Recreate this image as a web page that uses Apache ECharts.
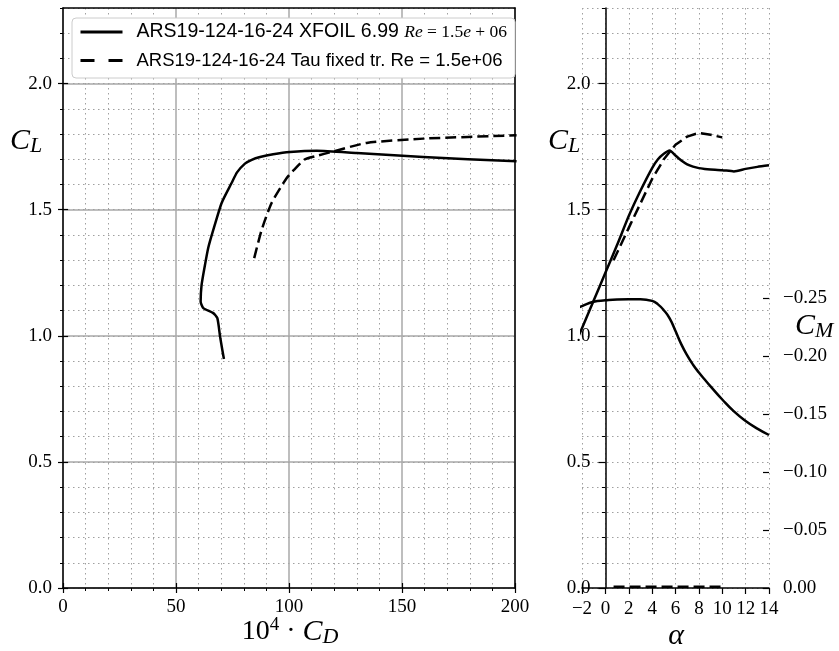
<!DOCTYPE html>
<html><head><meta charset="utf-8">
<script src="https://cdn.jsdelivr.net/npm/echarts@6/dist/echarts.min.js"></script>
<style>html,body{margin:0;padding:0;background:#fff}#c{width:839px;height:651px}</style>
</head><body><div id="c"></div>
<script>
// ---- data ----
const xfoilPolarCD = [71.2, 70.5, 69.5, 68.3, 66.5, 62.1, 60.9, 61.3, 62.6, 64.3, 66.5, 70.2, 74.6, 77.0, 80.5, 83.5, 87.2, 93.0, 100.4, 112.3, 130.0, 159.4, 200.7];
const xfoilPolarCL = [0.908, 0.944, 0.997, 1.070, 1.090, 1.110, 1.136, 1.200, 1.270, 1.350, 1.420, 1.527, 1.606, 1.648, 1.683, 1.698, 1.709, 1.720, 1.729, 1.734, 1.725, 1.709, 1.692];
const tauPolarCD = [84.6, 87.9, 92.3, 99.0, 102.3, 107.1, 111.5, 119.6, 134.4, 159.4, 200.7];
const tauPolarCL = [1.308, 1.420, 1.527, 1.626, 1.659, 1.700, 1.712, 1.731, 1.765, 1.782, 1.795];

const xfoilAlpha = [-3, -2, -1, 0, 1, 2, 3, 4, 4.5, 5, 5.5, 6, 6.5, 7, 7.5, 8, 8.5, 9, 10, 11, 12, 13, 14];
const xfoilCL = [0.93, 1.03, 1.14, 1.25, 1.36, 1.475, 1.575, 1.665, 1.70, 1.722, 1.735, 1.715, 1.695, 1.68, 1.671, 1.665, 1.662, 1.66, 1.657, 1.652, 1.662, 1.67, 1.676];
const xfoilCM = [-0.239, -0.243, -0.2468, -0.248, -0.2488, -0.249, -0.249, -0.2475, -0.2445, -0.2395, -0.2325, -0.2215, -0.210, -0.2005, -0.1925, -0.1858, -0.1797, -0.1738, -0.1625, -0.1522, -0.144, -0.1374, -0.1319];

const tauAlpha = [0.7, 2, 3, 4, 5, 6, 7, 8, 9, 10];
const tauCL = [1.30, 1.428, 1.525, 1.622, 1.70, 1.758, 1.79, 1.805, 1.797, 1.787];
const tauCM = [-0.001, -0.001, -0.001, -0.001, -0.001, -0.001, -0.001, -0.001, -0.001, -0.001];

const cdTicks = [0, 50, 100, 150, 200];
const clTicks = [0, 0.5, 1.0, 1.5, 2.0];
const alphaTicks = [-2, 0, 2, 4, 6, 8, 10, 12, 14];
const cmTicks = [0, -0.05, -0.10, -0.15, -0.20, -0.25];

const NAME_X = 'ARS19-124-16-24 XFOIL 6.99 Re = 1.5e + 06';
const NAME_T = 'ARS19-124-16-24 Tau fixed tr. Re = 1.5e+06';

// ---- styles ----
const SERIF = 'Liberation Serif';
const SANS = 'Liberation Sans';
const BLACK = '#000';
const MAJ = '#a8a8a8';
const DOT = {color: '#a0a0a0', width: 1, type: [1.5, 3.5]};
const ALPHA0_OFFSET = -23.4; // CL spine of right panel sits at alpha = 0
const minus = s => String(s).replace('-', '\u2212');
const zip = (a, b) => a.map((v, i) => [v, b[i]]);

const hidden = {axisLine: {show: false, onZero: false}, axisTick: {show: false}, axisLabel: {show: false}, splitLine: {show: false}};
const lbl = (extra) => Object.assign({fontFamily: SERIF, fontSize: 19, color: BLACK}, extra);

const chart = echarts.init(document.getElementById('c'), null, {renderer: 'canvas'});

const xAxis = [
  // 0: left grid lines
  Object.assign({}, hidden, {gridIndex: 0, type: 'value', min: 0, max: 200, interval: 50, z: 0,
    axisTick: {show: true, inside: true, length: 5, lineStyle: {color: BLACK, width: 1.2}},
    splitLine: {show: true, lineStyle: {color: MAJ, width: 1.5}},
    minorTick: {show: false, splitNumber: 5},
    minorSplitLine: {show: true, lineStyle: DOT}}),
  // 1: left bottom frame
  {gridIndex: 0, type: 'value', min: 0, max: 200, interval: 50, position: 'bottom', z: 3,
    axisLine: {show: true, onZero: false, lineStyle: {color: BLACK, width: 1.5}},
    axisTick: {show: true, length: 5, lineStyle: {color: BLACK, width: 1.2}},
    minorTick: {show: true, splitNumber: 5, length: 3, lineStyle: {color: BLACK, width: 1}},
    axisLabel: lbl({margin: 10, customValues: cdTicks}),
    splitLine: {show: false}},
  // 2: left top frame
  Object.assign({}, hidden, {gridIndex: 0, type: 'value', min: 0, max: 200, position: 'top', z: 3,
    axisLine: {show: true, onZero: false, lineStyle: {color: BLACK, width: 1.5}}}),
  // 3: right grid lines
  Object.assign({}, hidden, {gridIndex: 1, type: 'value', min: -2, max: 14, interval: 2, z: 0,
    splitLine: {show: true, lineStyle: DOT}}),
  // 4: right bottom frame (alpha)
  {gridIndex: 1, type: 'value', min: -2, max: 14, interval: 2, position: 'bottom', z: 3,
    axisLine: {show: true, onZero: false, lineStyle: {color: BLACK, width: 1.5}},
    axisTick: {show: true, length: 6, lineStyle: {color: BLACK, width: 1.2}},
    axisLabel: lbl({margin: 12, customValues: alphaTicks, formatter: v => minus(v)}),
    splitLine: {show: false}}
];

const yAxis = [
  // 0: left major grid
  Object.assign({}, hidden, {gridIndex: 0, type: 'value', min: 0, max: 2.3, interval: 0.5, z: 0,
    axisTick: {show: true, inside: true, length: 5, customValues: clTicks, lineStyle: {color: BLACK, width: 1.2}},
    splitLine: {show: true, lineStyle: {color: MAJ, width: 1.5}}}),
  // 1: left minor grid
  Object.assign({}, hidden, {gridIndex: 0, type: 'value', min: 0, max: 2.3, interval: 0.1, z: 0,
    splitLine: {show: true, lineStyle: DOT}}),
  // 2: left frame
  {gridIndex: 0, type: 'value', min: 0, max: 2.3, interval: 0.5, position: 'left', z: 3,
    axisLine: {show: true, onZero: false, lineStyle: {color: BLACK, width: 1.5}},
    axisTick: {show: true, length: 5, customValues: clTicks, lineStyle: {color: BLACK, width: 1.2}},
    axisLabel: lbl({margin: 11, customValues: clTicks, formatter: v => v.toFixed(1)}),
    splitLine: {show: false}},
  // 3: left minor ticks
  Object.assign({}, hidden, {gridIndex: 0, type: 'value', min: 0, max: 2.3, interval: 0.1, position: 'left', z: 3,
    axisTick: {show: true, length: 3, lineStyle: {color: BLACK, width: 1}}}),
  // 4: left right-side frame
  Object.assign({}, hidden, {gridIndex: 0, type: 'value', min: 0, max: 2.3, position: 'right', z: 3,
    axisLine: {show: true, onZero: false, lineStyle: {color: BLACK, width: 1.5}}}),
  // 5: right panel grid
  Object.assign({}, hidden, {gridIndex: 1, type: 'value', min: 0, max: 2.3, interval: 0.1, z: 0,
    splitLine: {show: true, lineStyle: DOT}}),
  // 6: right panel CL axis at alpha = 0
  {gridIndex: 1, type: 'value', min: 0, max: 2.3, interval: 0.5, position: 'left', offset: ALPHA0_OFFSET, z: 3,
    axisLine: {show: true, onZero: false, lineStyle: {color: BLACK, width: 1.5}},
    axisTick: {show: true, length: 7, customValues: clTicks, lineStyle: {color: BLACK, width: 1.2}},
    axisLabel: lbl({margin: 15, customValues: clTicks, formatter: v => v.toFixed(1)}),
    splitLine: {show: false}},
  // 7: right panel CL minor ticks
  Object.assign({}, hidden, {gridIndex: 1, type: 'value', min: 0, max: 2.3, interval: 0.1, position: 'left', offset: ALPHA0_OFFSET, z: 3,
    axisTick: {show: true, length: 3.5, lineStyle: {color: BLACK, width: 1}}}),
  // 8: CM axis (right, inverted)
  {gridIndex: 1, type: 'value', min: -0.5, max: 0, interval: 0.05, inverse: true, position: 'right', z: 3,
    axisLine: {show: false, onZero: false},
    axisTick: {show: true, inside: true, length: 6, customValues: cmTicks, lineStyle: {color: BLACK, width: 1.2}},
    axisLabel: lbl({margin: 14, customValues: cmTicks, formatter: v => minus(v.toFixed(2))}),
    splitLine: {show: false}}
];

const lineX = {color: BLACK, width: 2.5, join: 'round', cap: 'butt'};
const lineT = {color: BLACK, width: 2.5, type: [11, 5], join: 'round', cap: 'butt'};
const base = {type: 'line', symbol: 'none', showSymbol: false, itemStyle: {color: BLACK}, z: 2, clip: true};

const series = [
  Object.assign({}, base, {name: NAME_X, xAxisIndex: 0, yAxisIndex: 0, data: zip(xfoilPolarCD, xfoilPolarCL), lineStyle: lineX, smooth: 0.2}),
  Object.assign({}, base, {name: NAME_T, xAxisIndex: 0, yAxisIndex: 0, data: zip(tauPolarCD, tauPolarCL), lineStyle: lineT, smooth: 0.2}),
  Object.assign({}, base, {name: NAME_X, xAxisIndex: 3, yAxisIndex: 6, data: zip(xfoilAlpha, xfoilCL), lineStyle: lineX, smooth: 0.2}),
  Object.assign({}, base, {name: NAME_T, xAxisIndex: 3, yAxisIndex: 6, data: zip(tauAlpha, tauCL), lineStyle: lineT}),
  Object.assign({}, base, {name: NAME_X, xAxisIndex: 3, yAxisIndex: 8, data: zip(xfoilAlpha, xfoilCM), lineStyle: lineX, smooth: 0.5}),
  Object.assign({}, base, {name: NAME_T, xAxisIndex: 3, yAxisIndex: 8, data: zip(tauAlpha, tauCM), lineStyle: lineT})
];

const richMath = {
  c: {fontFamily: SERIF, fontStyle: 'italic', fontSize: 30, lineHeight: 32, fill: BLACK},
  s: {fontFamily: SERIF, fontStyle: 'italic', fontSize: 22, lineHeight: 19, verticalAlign: 'bottom', fill: BLACK},
  n: {fontFamily: SERIF, fontSize: 28, lineHeight: 32, fill: BLACK},
  p: {fontFamily: SERIF, fontSize: 19, lineHeight: 17, verticalAlign: 'top', fill: BLACK},
  a: {fontFamily: SERIF, fontStyle: 'italic', fontSize: 30, lineHeight: 32, fill: BLACK}
};
const mtext = (x, y, text, align) => ({type: 'text', x: x, y: y, z: 10,
  style: {text: text, rich: richMath, align: align || 'left', verticalAlign: 'middle'}});

const option = {
  animation: false,
  backgroundColor: '#fff',
  grid: [
    {left: 63, top: 8, width: 452, height: 580, outerBoundsMode: 'none', containLabel: false},
    {left: 582, top: 8, width: 187, height: 580, outerBoundsMode: 'none', containLabel: false}
  ],
  xAxis: xAxis,
  yAxis: yAxis,
  legend: {
    data: [
      {name: NAME_X, lineStyle: {width: 3}},
      {name: NAME_T, lineStyle: {width: 3, type: [14, 14]}}
    ],
    orient: 'vertical', left: 72, top: 18,
    padding: [4, 8, 8, 7], itemGap: 9, itemWidth: 42, itemHeight: 14,
    backgroundColor: '#fff', borderColor: '#cccccc', borderWidth: 1, borderRadius: 4,
    selectedMode: false,
    itemStyle: {opacity: 0, borderWidth: 0},
    formatter: function (name) {
      if (name === NAME_X) return '{a|ARS19-124-16-24 XFOIL 6.99 }{i|Re}{m| = 1.5}{i|e}{m| + 06}';
      return '{b|ARS19-124-16-24 Tau fixed tr. Re = 1.5e+06}';
    },
    textStyle: {
      color: BLACK,
      rich: {
        a: {fontFamily: SANS, fontSize: 19.5, lineHeight: 22, padding: [0, 0, 0, 9], color: BLACK},
        b: {fontFamily: SANS, fontSize: 18.5, lineHeight: 22, padding: [0, 0, 0, 9], color: BLACK},
        i: {fontFamily: SERIF, fontStyle: 'italic', fontSize: 17.5, lineHeight: 22, color: BLACK},
        m: {fontFamily: SERIF, fontSize: 17.5, lineHeight: 22, color: BLACK}
      }
    }
  },
  graphic: [
    mtext(10, 141, '{c|C}{s|L}'),
    mtext(548, 141, '{c|C}{s|L}'),
    mtext(795, 326, '{c|C}{s|M}'),
    mtext(290, 632, '{n|10}{p|4}{n| · }{c|C}{s|D}', 'center'),
    mtext(676, 636, '{a|α}', 'center')
  ],
  series: series
};
chart.setOption(option);
</script></body></html>
